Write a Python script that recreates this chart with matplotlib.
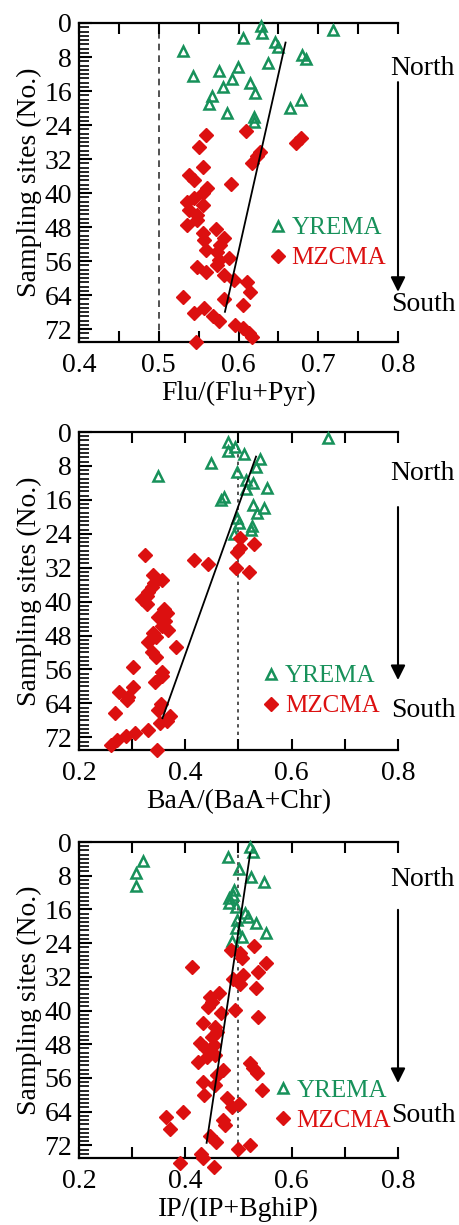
import matplotlib
matplotlib.use("Agg")
import matplotlib.pyplot as plt
from matplotlib.ticker import MultipleLocator

plt.rcParams['font.family'] = ['Liberation Serif', 'DejaVu Serif']
plt.rcParams['font.size'] = 20

green = '#17915a'
red = '#dc1010'

# panel 1: Flu/(Flu+Pyr)
flu_yr_site = [0.7, 1.6, 2.4, 3.6, 4.4, 5.6, 6.7, 7.5, 8.5, 9.3, 10.4, 11.2,
               12.5, 13.2, 14.2, 15.1, 16.4, 17.2, 18.1, 19.1, 20.1, 21.2, 22.2, 23.2]
flu_yr = [0.628, 0.719, 0.630, 0.606, 0.646, 0.650, 0.530, 0.680, 0.685, 0.637, 0.600, 0.575,
          0.543, 0.592, 0.615, 0.581, 0.621, 0.567, 0.678, 0.563, 0.664, 0.585, 0.619, 0.620]
flu_mz_site = [25.4, 26.3, 27.1, 28.1, 29.1, 30.3, 31.3, 33.0, 33.8, 35.7, 36.9, 37.9,
               38.9, 40.0, 41.2, 42.0, 42.8, 44.0, 45.1, 46.3, 47.5, 48.5, 49.4, 50.6,
               51.0, 52.2, 53.4, 53.8, 55.3, 55.7, 56.9, 57.4, 58.5, 59.3, 60.4, 60.8,
               63.2, 64.4, 65.0, 66.3, 67.1, 68.1, 68.9, 70.1, 71.0, 71.8, 72.8, 73.8, 75.1]
flu_mz = [0.609, 0.559, 0.678, 0.672, 0.550, 0.627, 0.623, 0.617, 0.555, 0.538, 0.544, 0.591,
          0.561, 0.555, 0.544, 0.536, 0.555, 0.538, 0.548, 0.548, 0.535, 0.572, 0.555, 0.582,
          0.557, 0.577, 0.559, 0.573, 0.588, 0.575, 0.573, 0.548, 0.559, 0.582, 0.594, 0.611,
          0.615, 0.531, 0.582, 0.606, 0.557, 0.544, 0.568, 0.575, 0.595, 0.606, 0.613, 0.617, 0.547]
flu_fit_x = [0.659, 0.583]
flu_fit_y = [4.6, 67.9]

# panel 2: BaA/(BaA+Chr)
baa_yr_site = [1.5, 2.3, 3.5, 4.5, 5.3, 6.4, 7.2, 8.2, 9.4, 10.4, 11.3, 12.1,
               13.3, 13.5, 15.3, 16.0, 17.2, 18.0, 19.2, 20.4, 21.4, 22.2, 23.1, 24.1]
baa_yr = [0.669, 0.480, 0.493, 0.481, 0.511, 0.540, 0.448, 0.533, 0.498, 0.348, 0.515, 0.527,
          0.554, 0.515, 0.473, 0.467, 0.528, 0.548, 0.534, 0.497, 0.501, 0.525, 0.523, 0.492]
baa_mz_site = [25.1, 26.3, 27.3, 28.2, 29.0, 30.2, 31.1, 32.0, 33.1, 33.7, 34.9, 35.5,
               36.5, 37.7, 38.7, 39.5, 40.6, 41.8, 42.8, 43.6, 44.6, 45.8, 46.7, 47.5,
               48.4, 49.5, 50.6, 51.8, 53.0, 55.4, 56.5, 57.5, 58.9, 60.1, 61.3, 62.4,
               63.2, 64.2, 65.6, 66.3, 67.0, 68.1, 68.7, 70.3, 70.9, 71.7, 72.6, 73.8, 75.0]
baa_mz = [0.503, 0.529, 0.503, 0.498, 0.324, 0.417, 0.443, 0.495, 0.519, 0.340, 0.356, 0.341,
          0.337, 0.330, 0.327, 0.318, 0.327, 0.359, 0.365, 0.349, 0.362, 0.356, 0.368, 0.340,
          0.345, 0.330, 0.382, 0.337, 0.345, 0.301, 0.356, 0.357, 0.343, 0.302, 0.276, 0.293,
          0.290, 0.354, 0.348, 0.268, 0.371, 0.365, 0.352, 0.330, 0.305, 0.288, 0.271, 0.260, 0.346]
baa_fit_x = [0.533, 0.357]
baa_fit_y = [5.8, 67.5]

# panel 3: IP/(IP+BghiP)
ip_yr_site = [1.1, 2.3, 3.5, 4.4, 6.5, 7.4, 8.4, 9.4, 10.4, 11.4, 12.6,
              13.4, 14.4, 15.5, 16.9, 17.9, 18.5, 19.3, 20.5, 21.5, 22.5, 23.4]
ip_yr = [0.522, 0.528, 0.481, 0.320, 0.501, 0.308, 0.523, 0.548, 0.308, 0.492, 0.490,
         0.483, 0.483, 0.495, 0.512, 0.517, 0.497, 0.533, 0.496, 0.551, 0.506, 0.487]
ip_mz_site = [24.7, 25.6, 26.4, 27.6, 28.8, 29.6, 30.8, 31.6, 32.6, 33.7, 34.7, 35.8,
              36.7, 37.9, 39.1, 39.9, 40.5, 41.5, 43.0, 43.8, 45.0, 46.2, 47.8, 48.2,
              49.0, 49.8, 50.6, 51.0, 52.1, 52.5, 53.7, 54.1, 54.9, 55.3, 56.9, 57.7,
              58.9, 60.1, 60.8, 62.2, 63.0, 64.0, 65.2, 66.0, 67.2, 68.0, 69.8, 71.1,
              71.9, 72.9, 74.1, 75.1, 76.3, 77.1]
ip_mz = [0.529, 0.486, 0.503, 0.506, 0.551, 0.412, 0.536, 0.508, 0.490, 0.503, 0.533, 0.464,
         0.446, 0.450, 0.443, 0.493, 0.468, 0.537, 0.434, 0.456, 0.459, 0.450, 0.428, 0.454,
         0.437, 0.446, 0.456, 0.440, 0.424, 0.522, 0.528, 0.471, 0.534, 0.459, 0.434, 0.456,
         0.545, 0.435, 0.478, 0.501, 0.487, 0.395, 0.364, 0.471, 0.475, 0.371, 0.446, 0.458,
         0.522, 0.500, 0.429, 0.434, 0.390, 0.454]
ip_fit_x = [0.522, 0.440]
ip_fit_y = [2.7, 71.4]

panels = [
    dict(yr=flu_yr, yr_s=flu_yr_site, mz=flu_mz, mz_s=flu_mz_site, fx=flu_fit_x, fy=flu_fit_y,
         xlabel='Flu/(Flu+Pyr)', xlim=(0.4, 0.8), major=0.1, minor=0.05, ref=(0, (4, 3)),
         pos=[79/460, 1 - 342/1225, 319/460, 319/1225], leg=(0.592, 0.31),
         north=10.6, arrow=(13.9, 63.2), south=66.3),
    dict(yr=baa_yr, yr_s=baa_yr_site, mz=baa_mz, mz_s=baa_mz_site, fx=baa_fit_x, fy=baa_fit_y,
         xlabel='BaA/(BaA+Chr)', xlim=(0.2, 0.8), major=0.2, minor=0.1, ref=(0, (2, 2.5)),
         pos=[79/460, 1 - 750/1225, 319/460, 318/1225], leg=(0.572, 0.185),
         north=9.7, arrow=(17.7, 58.5), south=65.6),
    dict(yr=ip_yr, yr_s=ip_yr_site, mz=ip_mz, mz_s=ip_mz_site, fx=ip_fit_x, fy=ip_fit_y,
         xlabel='IP/(IP+BghiP)', xlim=(0.2, 0.8), major=0.2, minor=0.1, ref=(0, (2, 2.5)),
         pos=[79/460, 1 - 1158/1225, 319/460, 316/1225], leg=(0.608, 0.165),
         north=9.0, arrow=(16.1, 57.2), south=64.8),
]

fig = plt.figure(figsize=(4.6, 12.25), dpi=100)

for p in panels:
    ax = fig.add_axes(p['pos'])
    # reference line at 0.5
    ax.axvline(0.5, color='#333333', lw=1.2, linestyle=p['ref'], zorder=1)
    ax.plot(p['yr'], p['yr_s'], '^', ms=7.5, mfc='none', mec=green, mew=1.8,
            label='YREMA', clip_on=False, zorder=3)
    ax.plot(p['mz'], p['mz_s'], 'D', ms=7, color=red, mec=red,
            label='MZCMA', clip_on=False, zorder=3)
    ax.plot(p['fx'], p['fy'], color='black', lw=1.3, zorder=4)

    ax.set_xlim(p['xlim'])
    ax.set_ylim(75, 0)
    ax.xaxis.set_major_locator(MultipleLocator(p['major']))
    ax.xaxis.set_minor_locator(MultipleLocator(p['minor']))
    ax.yaxis.set_major_locator(MultipleLocator(8))
    ax.yaxis.set_minor_locator(MultipleLocator(1))
    ax.xaxis.set_major_formatter(matplotlib.ticker.FormatStrFormatter('%.1f'))
    ax.tick_params(axis='x', which='both', direction='in', top=True, bottom=True,
                   length=8, width=1.5, pad=8)
    ax.tick_params(axis='y', which='major', direction='in', left=True, right=False,
                   length=9, width=1.5, pad=5)
    ax.tick_params(axis='y', which='minor', direction='in', left=True, right=False,
                   length=7, width=1.2)
    ax.spines['right'].set_visible(False)
    for s in ['left', 'top', 'bottom']:
        ax.spines[s].set_linewidth(1.6)

    ax.set_xlabel(p['xlabel'], labelpad=2)
    ax.set_ylabel('Sampling sites (No.)', labelpad=2)

    leg = ax.legend(loc='center left', bbox_to_anchor=p['leg'], frameon=False,
                    fontsize=18, handlelength=0.8, handletextpad=0.15, labelspacing=0.3,
                    borderpad=0, borderaxespad=0, numpoints=1)
    leg.get_texts()[0].set_color(green)
    leg.get_texts()[1].set_color(red)

    # north -> south arrow on the right side
    tr = ax.get_yaxis_transform()
    ax.text(1.078, p['north'], 'North', transform=tr, ha='center', va='center')
    ax.text(1.078, p['south'], 'South', transform=tr, ha='center', va='center')
    ax.annotate('', xy=(1.0, p['arrow'][1]), xytext=(1.0, p['arrow'][0]),
                xycoords=tr, textcoords=tr,
                arrowprops=dict(arrowstyle='-|>', color='black', lw=1.5,
                                mutation_scale=22, shrinkA=0, shrinkB=0))

fig.savefig('out.png', dpi=100)
